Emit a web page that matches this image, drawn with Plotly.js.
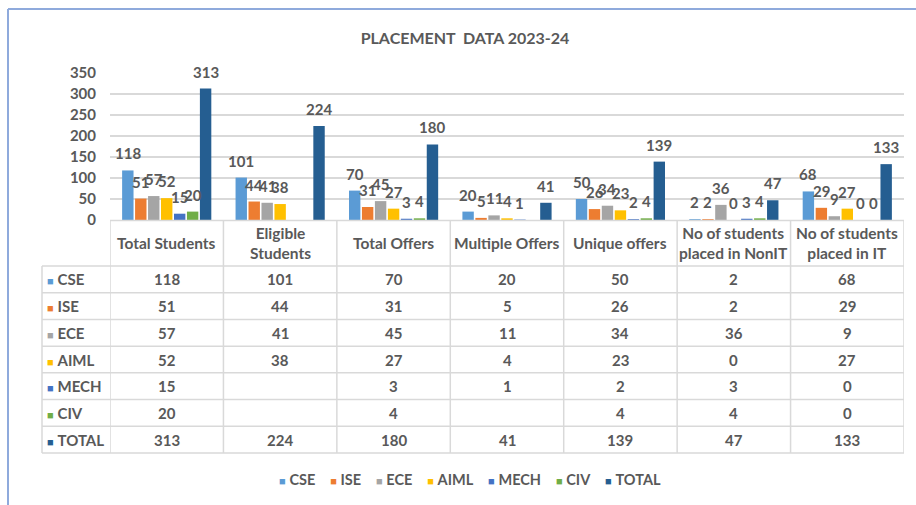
<!DOCTYPE html>
<html>
<head>
<meta charset="utf-8">
<script src="https://cdn.plot.ly/plotly-3.0.1.min.js"></script>
<style>html,body{margin:0;padding:0;background:#fff;}#chart{width:916px;height:505px;}</style>
</head>
<body>
<div id="chart"></div>
<script>
// ---- data ----
const categories = ['Total Students','Eligible Students','Total Offers','Multiple Offers','Unique offers','No of students placed in NonIT','No of students placed in IT'];
const headerLabels = ['Total Students','Eligible<br>Students','Total Offers','Multiple Offers','Unique offers','No of students<br>placed in NonIT','No of students<br>placed in IT'];
const seriesNames = ['CSE','ISE','ECE','AIML','MECH','CIV','TOTAL'];
const CSE   = [118, 101, 70, 20, 50, 2, 68];
const ISE   = [51, 44, 31, 5, 26, 2, 29];
const ECE   = [57, 41, 45, 11, 34, 36, 9];
const AIML  = [52, 38, 27, 4, 23, 0, 27];
const MECH  = [15, null, 3, 1, 2, 3, 0];
const CIV   = [20, null, 4, null, 4, 4, 0];
const TOTAL = [313, 224, 180, 41, 139, 47, 133];
const yTicks = [0, 50, 100, 150, 200, 250, 300, 350];
const chartTitle = 'PLACEMENT  DATA 2023-24';

// ---- styles ----
const seriesValues = [CSE, ISE, ECE, AIML, MECH, CIV, TOTAL];
const colors = ['#5B9BD5','#ED7D31','#A5A5A5','#FFC000','#4472C4','#70AD47','#255E91'];
const FONT = 'Lato, "Liberation Sans", sans-serif';
const TXT = '#595959';
const FS = 15;
const GRID = '#D9D9D9';
const B = s => '<b>' + s + '</b>';

const W = 916, H = 505;
const PL = 110, PR = 904, PT = 73, PB = 220;
const xp = px => (px - PL) / (PR - PL);
const yp = py => (PB - py) / (PB - PT);

const bargap = 0.2, bargroupgap = 0.12;
const nS = seriesNames.length;

const traces = seriesNames.map((n, j) => ({
  type: 'bar', name: n, x: categories, y: seriesValues[j],
  marker: {color: colors[j]}, showlegend: false, hoverinfo: 'x+y+name'
}));

const annotations = [];
const shapes = [];

// data labels above bars
const slot = (1 - bargap) / nS;
seriesValues.forEach((vals, j) => {
  vals.forEach((v, i) => {
    if (v === null) return;
    annotations.push({
      xref: 'x', yref: 'y', x: i + (j - (nS - 1) / 2) * slot, y: v,
      text: B(String(v)), showarrow: false, yanchor: 'bottom', xanchor: 'center', yshift: 6,
      font: {family: FONT, size: FS, color: TXT}
    });
  });
});

// data table
const headTop = 220.5, headBot = 266, tableBot = 453;
const rowH = (tableBot - headBot) / nS;
const tableLeft = 42;
shapes.push({type: 'line', xref: 'paper', yref: 'paper', x0: 0, x1: 1, y0: yp(headTop), y1: yp(headTop), line: {color: GRID, width: 1.5}});
for (let r = 0; r <= nS; r++) {
  const py = headBot + r * rowH;
  shapes.push({type: 'line', xref: 'paper', yref: 'paper', x0: xp(tableLeft), x1: 1, y0: yp(py), y1: yp(py), line: {color: GRID, width: 1.5}});
}
for (let i = 0; i <= categories.length; i++) {
  shapes.push({type: 'line', xref: 'x', yref: 'paper', x0: i - 0.5, x1: i - 0.5, y0: yp(headTop), y1: yp(tableBot), line: {color: GRID, width: 1.5}});
}
shapes.push({type: 'line', xref: 'paper', yref: 'paper', x0: xp(tableLeft), x1: xp(tableLeft), y0: yp(headBot), y1: yp(tableBot), line: {color: GRID, width: 1.5}});

headerLabels.forEach((t, i) => {
  annotations.push({xref: 'x', yref: 'paper', x: i, y: yp((headTop + headBot) / 2), text: B(t), showarrow: false,
    xanchor: 'center', yanchor: 'middle', font: {family: FONT, size: 15.5, color: TXT}});
});
seriesValues.forEach((vals, j) => {
  const cy = headBot + (j + 0.5) * rowH;
  annotations.push({xref: 'paper', yref: 'paper', x: xp(tableLeft + 3), y: yp(cy), xanchor: 'left', yanchor: 'middle', showarrow: false,
    text: '<span style="color:' + colors[j] + ';font-size:11px">■</span> ' + B(seriesNames[j]),
    font: {family: FONT, size: FS, color: TXT}});
  vals.forEach((v, i) => {
    if (v === null) return;
    annotations.push({xref: 'x', yref: 'paper', x: i, y: yp(cy), xanchor: 'center', yanchor: 'middle', showarrow: false,
      text: B(String(v)), font: {family: FONT, size: FS, color: TXT}});
  });
});

// legend
const legText = seriesNames.map((n, j) => '<span style="color:' + colors[j] + ';font-size:11px">■</span>\u00a0' + B(n)).join('\u00a0\u00a0\u00a0\u00a0');
annotations.push({xref: 'paper', yref: 'paper', x: xp(470), y: yp(479), xanchor: 'center', yanchor: 'middle', showarrow: false,
  text: legText, font: {family: FONT, size: FS - 0.5, color: TXT}});

// outer frame lines
shapes.push({type: 'line', xref: 'paper', yref: 'paper', x0: xp(8), x1: xp(W), y0: yp(9), y1: yp(9), line: {color: '#8FAADC', width: 2}});
shapes.push({type: 'line', xref: 'paper', yref: 'paper', x0: xp(8), x1: xp(8), y0: yp(9), y1: yp(H), line: {color: '#8FAADC', width: 2}});

const layout = {
  width: W, height: H,
  margin: {l: PL, r: W - PR, t: PT, b: H - PB},
  paper_bgcolor: '#fff', plot_bgcolor: '#fff',
  barmode: 'group', bargap: bargap, bargroupgap: bargroupgap,
  title: {text: chartTitle, xref: 'container', yref: 'container', x: 465 / W, y: 1 - 38 / H, xanchor: 'center', yanchor: 'middle',
    font: {family: FONT, size: 16, color: TXT, weight: 'bold'}},
  xaxis: {type: 'category', showticklabels: false, showgrid: false, zeroline: false, showline: false, ticks: '', range: [-0.5, categories.length - 0.5]},
  yaxis: {range: [0, 350], tickvals: yTicks, showgrid: true, gridcolor: GRID, gridwidth: 1.5, zeroline: false, showline: false, ticks: '',
    ticklabelstandoff: 13, tickfont: {family: FONT, size: FS, color: TXT, weight: 'bold'}},
  showlegend: false,
  shapes: shapes,
  annotations: annotations
};

Plotly.newPlot('chart', traces, layout, {displayModeBar: false, staticPlot: true});
</script>
</body>
</html>
